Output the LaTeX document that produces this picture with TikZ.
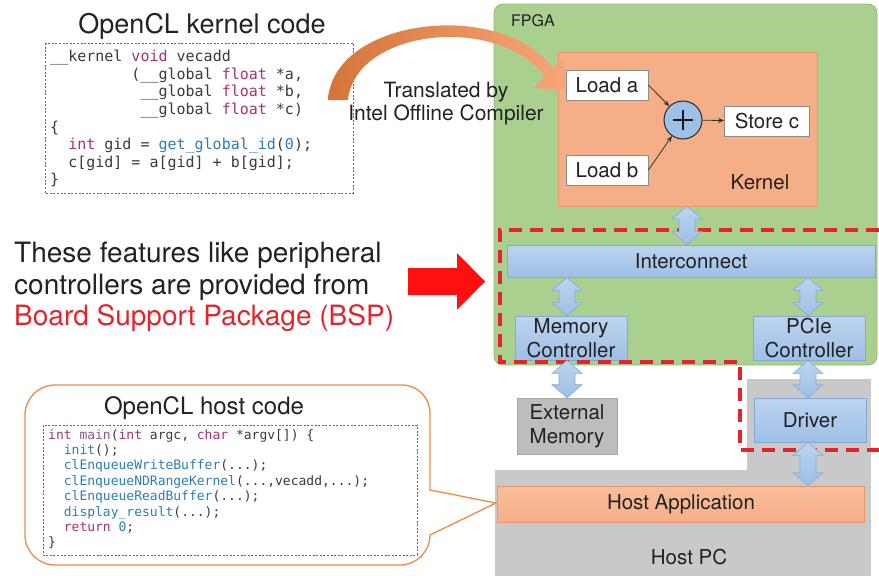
\documentclass[tikz,border=0pt]{standalone}
\usepackage{fontspec}
\setmainfont{TeX Gyre Heros}
\setmonofont{DejaVu Sans Mono}
\usetikzlibrary{calc,arrows.meta}

\definecolor{fpgagreen}{HTML}{A9D08E}
\definecolor{fpgaedge}{HTML}{8FBD72}
\definecolor{kernfill}{HTML}{F6AE86}
\definecolor{kernedge}{HTML}{EA9668}
\definecolor{blueA}{HTML}{BCD4EF}
\definecolor{blueB}{HTML}{9EBFE6}
\definecolor{blueedge}{HTML}{84A9D6}
\definecolor{hostgray}{HTML}{C9C9C9}
\definecolor{memgray}{HTML}{BDBDBD}
\definecolor{memedge}{HTML}{A8A8A8}
\definecolor{bspred}{HTML}{E3242B}
\definecolor{arrowred}{HTML}{FF1010}
\definecolor{kwcol}{HTML}{A7326C}
\definecolor{mncol}{HTML}{8A5A8A}
\definecolor{fncol}{HTML}{2E7DB2}
\definecolor{codecol}{HTML}{3A3A3A}
\definecolor{calloutedge}{HTML}{EE8A48}
\definecolor{compA}{HTML}{D4743A}
\definecolor{compB}{HTML}{F8A677}
\definecolor{txt}{HTML}{222222}

\newcommand\kw[1]{\textcolor{kwcol}{#1}}
\newcommand\mn[1]{\textcolor{mncol}{#1}}
\newcommand\fn[1]{\textcolor{fncol}{#1}}
\newcommand\cols[1]{\hspace*{\fpeval{0.602*#1}em}}

% vertical two-headed block arrow: x position, upper anchor, lower anchor
\newcommand\vdarrow[3]{%
  \path[bluearrow]
    ([xshift=-8pt,yshift=-13pt]#1,0 |- #2) -- ([xshift=-15pt,yshift=-13pt]#1,0 |- #2)
    -- (#1,0 |- #2) -- ([xshift=15pt,yshift=-13pt]#1,0 |- #2)
    -- ([xshift=8pt,yshift=-13pt]#1,0 |- #2) -- ([xshift=8pt,yshift=13pt]#1,0 |- #3)
    -- ([xshift=15pt,yshift=13pt]#1,0 |- #3) -- (#1,0 |- #3)
    -- ([xshift=-15pt,yshift=13pt]#1,0 |- #3) -- ([xshift=-8pt,yshift=13pt]#1,0 |- #3)
    -- cycle;}

\tikzset{
  lbl/.style={font=\fontsize{20.5}{24}\selectfont, text=txt, align=center, inner sep=0},
  bluebox/.style={draw=blueedge, line width=0.8, top color=blueA, bottom color=blueB,
    lbl},
  whitebox/.style={draw=black!45, line width=0.8, fill=white, lbl,
    minimum height=30},
  bluearrow/.style={draw=blueedge, line width=0.6, top color=blueA, bottom color=blueB},
  codebox/.style={draw=black!60, line width=0.8, dash pattern=on 2pt off 1.6pt, fill=white},
  codetext/.style={anchor=north west, align=left, inner sep=0, text=codecol},
  thinarrow/.style={-{Stealth[length=6pt,width=5pt]}, line width=0.8, draw=black!80},
}

\begin{document}
\begin{tikzpicture}[x=1pt,y=-1pt]
\useasboundingbox (0,0) rectangle (879,576);

% ---------- host PC and FPGA board ----------
\fill[hostgray] (747,379) rectangle (871,576);
\fill[hostgray] (495,470) rectangle (871,576);
\node[lbl] (hostpc) at (689,557) {Host PC};

\draw[fpgaedge, fill=fpgagreen, line width=0.8, rounded corners=9] (494,4) rectangle (877,365);
\node[lbl, font=\fontsize{16}{18}\selectfont, anchor=west] (fpga) at (511,21) {FPGA};

% ---------- kernel ----------
\draw[kernedge, fill=kernfill, line width=0.8] (558,52) rectangle (817,206);
\node[lbl] (kernlbl) at (760,182) {Kernel};
\node[whitebox, minimum width=82] (loada) at (607,85) {Load a};
\node[whitebox, minimum width=82] (loadb) at (607,170) {Load b};
\node[circle, draw=black!85, line width=1, fill=blueB, minimum size=38] (plus) at (683,120) {};
\draw[line width=2.6, black!90] (plus.center) ++(-10,0) -- ++(20,0);
\draw[line width=2.6, black!90] (plus.center) ++(0,-10) -- ++(0,20);
\node[whitebox, minimum width=85] (storec) at (767,121) {Store c};
\draw[thinarrow] (loada.east) -- (plus);
\draw[thinarrow] (loadb.east) -- (plus);
\draw[thinarrow] (plus) -- (storec);

% ---------- BSP blocks ----------
\node[bluebox, minimum width=368, minimum height=32] (ic) at (691,261) {Interconnect};
\node[bluebox, minimum width=112, minimum height=44] (memctl) at (571,338) {Memory\\Controller};
\node[bluebox, minimum width=112, minimum height=44] (pcie) at (809,338) {PCIe\\Controller};
\node[draw=memedge, fill=memgray, line width=0.6, lbl, minimum width=100, minimum height=56]
  (extmem) at (567,426) {External\\Memory};
\node[bluebox, minimum width=112, minimum height=44] (driver) at (810,420) {Driver};
\node[lbl, draw=kernedge, line width=0.8, top color=kernfill!80, bottom color=kernfill,
  minimum width=367, minimum height=36] (hostapp) at (681,504) {Host Application};

% BSP region
\draw[bspred, line width=3.6, dash pattern=on 13pt off 8pt]
  (879,230) -- (500,230) -- (500,362) -- (740,362) -- (740,450) -- (879,450);

% block arrows between the blocks
\coordinate (kbottom) at (687,206);
\vdarrow{687}{kbottom}{ic.north}
\vdarrow{567}{ic.south}{memctl.north}
\vdarrow{808}{ic.south}{pcie.north}
\vdarrow{567}{memctl.south}{extmem.north}
\vdarrow{808}{pcie.south}{driver.north}
\vdarrow{808}{driver.south}{hostapp.north}

% ---------- kernel source ----------
\node[font=\fontsize{27}{30}\selectfont, text=txt, inner sep=0] (ktitle) at (202,26) {OpenCL kernel code};
\draw[codebox] (45,43) rectangle (353,193);
\node[codetext, font=\fontsize{15}{17.6}\selectfont\ttfamily] (kcode) at (50,50) {%
\_\_kernel \kw{void} vecadd\\
\cols{9}(\_\_global \kw{float} *a,\\
\cols{10}\_\_global \kw{float} *b,\\
\cols{10}\_\_global \kw{float} *c)\\
\{\\
\cols{2}\kw{int} gid = \fn{get\_global\_id}(\fn{0});\\
\cols{2}c[gid] = a[gid] + b[gid];\\
\}};

% compiler arrow
\shade[left color=compA, right color=compB]
  (328,100) .. controls (333,18) and (500,-2) .. (553,68)
  -- (564,57) -- (566,90) -- (534,88) -- (545,76)
  .. controls (495,13) and (355,30) .. (348,100) -- cycle;
\node[lbl, font=\fontsize{21}{23}\selectfont] (compiler) at (446,104) {Translated by\\Intel Offline Compiler};

% ---------- BSP note ----------
\node[anchor=west, align=left, inner sep=0, text=txt, font=\fontsize{28}{31.5}\selectfont]
  (bspnote) at (14,287) {These features like peripheral\\controllers are provided from\\
  \textcolor{bspred}{Board Support Package (BSP)}};
\fill[arrowred] (408,268) -- (457,268) -- (457,253) -- (485,281.5) -- (457,310) -- (457,295) -- (408,295) -- cycle;

% ---------- host source in a callout ----------
\draw[calloutedge, line width=1.3, fill=white, rounded corners=28]
  (25,385) -- (430,385) -- (430,460) [sharp corners] -- (430,490) -- (496,503) -- (430,535)
  [rounded corners=30] -- (430,565) -- (25,565) -- cycle;
\node[font=\fontsize{24}{27}\selectfont, text=txt, inner sep=0] (htitle) at (204,408) {OpenCL host code};
\draw[codebox] (43,425) rectangle (417,555);
\node[codetext, font=\fontsize{13}{15.4}\selectfont\ttfamily] (hcode) at (48,429) {%
\kw{int} \mn{main}(\kw{int} argc, \kw{char} *argv[]) \{\\
\cols{2}\fn{init}();\\
\cols{2}\fn{clEnqueueWriteBuffer}(...);\\
\cols{2}\fn{clEnqueueNDRangeKernel}(...,vecadd,...);\\
\cols{2}\fn{clEnqueueReadBuffer}(...);\\
\cols{2}\fn{display\_result}(...);\\
\cols{2}\kw{return} \fn{0};\\
\}};
\end{tikzpicture}
\end{document}
